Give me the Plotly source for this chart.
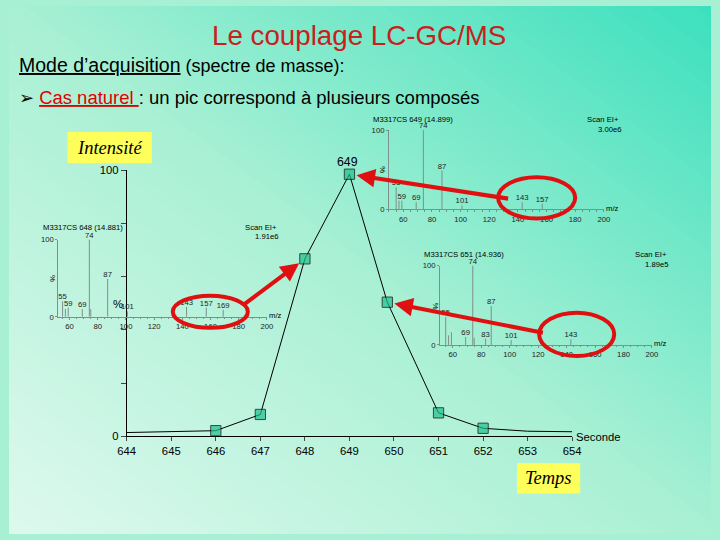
import math
import plotly.graph_objects as go

# ---------------- data ----------------
time_s = [644, 646, 647, 648, 649, 649.85, 651, 652, 653, 654]
intensity = [1.4, 2.1, 8.2, 66.7, 98.5, 50.4, 8.8, 3.0, 1.9, 1.7]
has_marker = [False, True, True, True, True, True, True, True, False, False]
time_ticks = [644, 645, 646, 647, 648, 649, 650, 651, 652, 653, 654]

spec_ticks = [60, 80, 100, 120, 140, 160, 180, 200]

s649_mz = [55, 57, 59, 69, 74, 87, 101, 143, 157]
s649_int = [28, 11, 11, 9, 100, 49, 5, 9, 7]
s649_lbl = ["55", "", "59", "69", "74", "87", "101", "143", "157"]

s648_mz = [55, 57, 59, 69, 74, 75, 87, 101, 143, 157, 169]
s648_int = [20, 10, 12, 10, 100, 10, 49, 7, 13, 12, 9]
s648_lbl = ["55", "", "59", "69", "74", "", "87", "101", "143", "157", "169"]

s651_mz = [55, 57, 59, 69, 74, 75, 83, 87, 101, 143]
s651_int = [35, 12, 16, 10, 100, 9, 8, 49, 6, 7]
s651_lbl = ["55", "", "", "69", "74", "", "83", "87", "101", "143"]

W, H = 720, 540
FONT = "Liberation Sans"
RED = "#e01010"
SPEC_GRAY = "#7f8f8a"

# the page is photographed slightly reduced and inset; positions below are given
# in target-picture pixels and converted to figure coordinates
K = 0.974
OX, OY = 9.4, 6.4


def s(v):
    return v / K


def px(x):
    return ((x - OX) / K) / W


def py(y):
    return 1 - ((y - OY) / K) / H


fig = go.Figure()

# main chromatogram line + markers
fig.add_trace(go.Scatter(
    x=time_s, y=intensity, mode="lines+markers",
    line=dict(color="black", width=1),
    marker=dict(symbol="square", size=[s(10) if m else 0 for m in has_marker],
                color="#1fbf8c", line=dict(color="black", width=1)),
    cliponaxis=False, xaxis="x", yaxis="y", showlegend=False, hoverinfo="skip"))


def add_spectrum(n, mz, inten, labels):
    xs, ys = [], []
    for m, v in zip(mz, inten):
        xs += [m, m, None]
        ys += [0, v, None]
    fig.add_trace(go.Scatter(x=xs, y=ys, mode="lines",
                             line=dict(color=SPEC_GRAY, width=1),
                             xaxis=f"x{n}", yaxis=f"y{n}", showlegend=False,
                             hoverinfo="skip"))
    fig.add_trace(go.Scatter(x=mz, y=inten, mode="text", text=labels,
                             textposition="top center",
                             textfont=dict(size=s(7.5), color="#222", family=FONT),
                             cliponaxis=False,
                             xaxis=f"x{n}", yaxis=f"y{n}", showlegend=False,
                             hoverinfo="skip"))


add_spectrum(2, s649_mz, s649_int, s649_lbl)
add_spectrum(3, s648_mz, s648_int, s648_lbl)
add_spectrum(4, s651_mz, s651_int, s651_lbl)

layout = dict(
    width=W, height=H, margin=dict(l=0, r=0, t=0, b=0),
    paper_bgcolor="#a8f0d4", plot_bgcolor="rgba(0,0,0,0)",
    showlegend=False, font=dict(family=FONT, color="black"),
    xaxis=dict(domain=[px(127), px(572)], range=[644, 654], anchor="y",
               tickvals=time_ticks, ticks="outside", ticklen=4,
               showline=True, linecolor="black", linewidth=1,
               tickfont=dict(size=s(11), family=FONT), showgrid=False, zeroline=False),
    yaxis=dict(domain=[py(435), py(170)], range=[0, 100], anchor="x",
               tickvals=[0, 20, 40, 60, 80, 100],
               ticktext=["0", "", "", "", "", "100"],
               ticks="outside", ticklen=5, showline=True, linecolor="black",
               linewidth=1, tickfont=dict(size=s(11), family=FONT),
               showgrid=False, zeroline=False),
)


def spec_axes(n, x0, x1, y0, y1, rng):
    layout[f"xaxis{n}"] = dict(
        domain=[px(x0), px(x1)], range=rng, anchor=f"y{n}",
        tickvals=spec_ticks, ticks="outside", ticklen=2, tickcolor=SPEC_GRAY,
        showline=True, linecolor=SPEC_GRAY, linewidth=1,
        tickfont=dict(size=s(7.5), color="#222", family=FONT),
        showgrid=False, zeroline=False,
        minor=dict(dtick=5, tick0=50, ticks="outside", ticklen=1.5, tickcolor=SPEC_GRAY))
    layout[f"yaxis{n}"] = dict(
        domain=[py(y0), py(y1)], range=[0, 100], anchor=f"x{n}",
        tickvals=[0, 100], ticks="outside", ticklen=2, tickcolor=SPEC_GRAY,
        showline=True, linecolor=SPEC_GRAY, linewidth=1,
        tickfont=dict(size=s(7.5), color="#222", family=FONT),
        showgrid=False, zeroline=False)


spec_axes(2, 389, 603.6, 209, 130, [50, 200])
spec_axes(3, 58.7, 267, 316, 239, [52, 200])
spec_axes(4, 440, 651.7, 344, 265, [51, 200])

fig.update_layout(**layout)

# ---------------- background gradient (diagonal bands clipped to the page) ----------------
stops = [(0.0, (222, 249, 238)), (1.0, (168, 240, 212)), (2.0, (60, 224, 190))]


def col(u):
    for (u0, c0), (u1, c1) in zip(stops[:-1], stops[1:]):
        if u <= u1:
            t = (u - u0) / (u1 - u0)
            return "rgb(%d,%d,%d)" % tuple(round(a + (b - a) * t) for a, b in zip(c0, c1))
    return "rgb(%d,%d,%d)" % stops[-1][1]


def band_poly(a, b):
    pts = []
    for c in (a, b):
        for (x, y) in [(0, c), (1, c - 1), (c, 0), (c - 1, 1)]:
            if -1e-9 <= x <= 1 + 1e-9 and -1e-9 <= y <= 1 + 1e-9:
                pts.append((min(max(x, 0), 1), min(max(y, 0), 1)))
    for (x, y) in [(0, 0), (1, 0), (0, 1), (1, 1)]:
        if a <= x + y <= b:
            pts.append((x, y))
    uniq = []
    for p in pts:
        if all(abs(p[0] - q[0]) > 1e-9 or abs(p[1] - q[1]) > 1e-9 for q in uniq):
            uniq.append(p)
    cx = sum(p[0] for p in uniq) / len(uniq)
    cy = sum(p[1] for p in uniq) / len(uniq)
    uniq.sort(key=lambda p: math.atan2(p[1] - cy, p[0] - cx))
    return "M " + " L ".join(f"{x:.5f},{y:.5f}" for x, y in uniq) + " Z"


shapes = []
N = 90
for i in range(N):
    a = 2.0 * i / N
    b = min(2.0 * (i + 1) / N + 0.003, 2.0)
    shapes.append(dict(type="path", path=band_poly(a, b), xref="paper", yref="paper",
                       fillcolor=col(a + 1.0 / N), line=dict(width=0), layer="below"))

# red ellipses
for (x0, x1, y0, y1) in [(498, 575, 177, 218), (173, 248, 295, 327), (539, 614, 312, 355)]:
    shapes.append(dict(type="circle", xref="paper", yref="paper",
                       x0=px(x0), x1=px(x1), y0=py(y1), y1=py(y0),
                       line=dict(color=RED, width=4), layer="above"))

# yellow boxes
for (x0, x1, y0, y1) in [(68, 152, 132, 163), (517, 580, 462, 492)]:
    shapes.append(dict(type="rect", xref="paper", yref="paper",
                       x0=px(x0), x1=px(x1), y0=py(y1), y1=py(y0),
                       fillcolor="#ffff5c", line=dict(width=0), layer="above"))

fig.update_layout(shapes=shapes)

# ---------------- annotations ----------------
ann = []


def txt(text, x, y, size, xanchor="left", color="black", family=FONT, angle=0):
    ann.append(dict(text=text, x=px(x), y=py(y), xref="paper", yref="paper",
                    xanchor=xanchor, yanchor="middle", showarrow=False,
                    textangle=angle,
                    font=dict(size=s(size), color=color, family=family)))


txt("Le couplage LC-GC/MS", 359, 36, 27, "center", color="#c8201e")
txt("<span style='text-decoration:underline'>Mode d’acquisition</span>"
    f"<span style='font-size:{s(17.5):.1f}px'> (spectre de masse):</span>", 17, 65, 19)
txt("➢ <span style='color:#e00000;text-decoration:underline'>Cas naturel </span>"
    ": un pic correspond à plusieurs composés", 17, 98, 18)

txt("<i>Intensité</i>", 110, 148, 18, "center", family="Liberation Serif")
txt("<i>Temps</i>", 548.5, 477, 18, "center", family="Liberation Serif")

txt("649", 348, 162, 12, "center")
txt("%", 118, 303, 11, "center")
txt("Seconde", 574, 436, 11, "left")

# spectrum headers
txt("M3317CS 649 (14.899)", 371, 119, 7.5)
txt("Scan EI+", 621, 119, 7.5, "right")
txt("3.00e6", 624, 129, 7.5, "right")
txt("%", 383, 170, 7.5, "center", angle=90)
txt("m/z", 604, 208, 7.5, "left")

txt("M3317CS 648 (14.881)", 41, 227, 7.5)
txt("Scan EI+", 279, 227, 7.5, "right")
txt("1.91e6", 281, 236, 7.5, "right")
txt("%", 53, 278, 7.5, "center", angle=90)
txt("m/z", 267, 315, 7.5, "left")

txt("M3317CS 651 (14.936)", 422, 254, 7.5)
txt("Scan EI+", 669, 254, 7.5, "right")
txt("1.89e5", 671, 264, 7.5, "right")
txt("%", 435, 305, 7.5, "center", angle=90)
txt("m/z", 652, 343, 7.5, "left")

# red arrows pointing to the chromatogram points
for (xv, yv, ax, ay) in [(649, 98.5, 156, 24), (648, 66.7, -60, 45), (649.85, 50.4, 153, 30)]:
    ann.append(dict(x=xv, y=yv, xref="x", yref="y", ax=s(ax), ay=s(ay), text="",
                    showarrow=True, arrowhead=2, arrowsize=0.9, arrowwidth=s(4),
                    arrowcolor=RED, standoff=s(7)))

fig.update_layout(annotations=ann)

BG_CSS = ("linear-gradient(to top right, rgb(222,249,238) 0%, "
          "rgb(168,240,212) 50%, rgb(60,224,190) 100%)")
fig.write_html(
    "out.html",
    config={"responsive": False, "displayModeBar": False},
    post_script=(
        "document.body.style.margin='0';"
        "document.body.style.overflow='hidden';"
        "document.documentElement.style.overflow='hidden';"
        f"document.documentElement.style.background='{BG_CSS}';"
        f"document.body.style.background='{BG_CSS}';"
    ),
)
